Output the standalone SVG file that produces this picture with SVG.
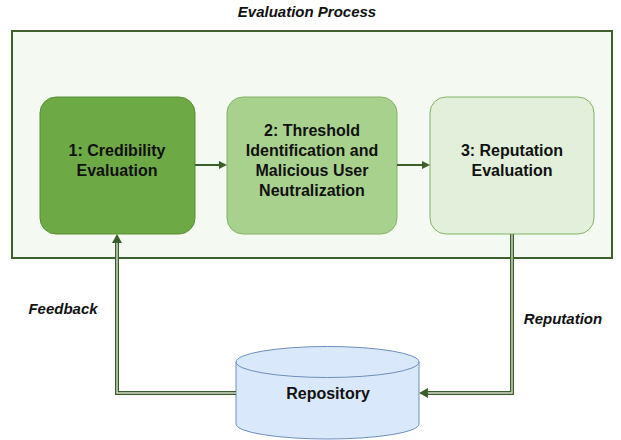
<svg xmlns="http://www.w3.org/2000/svg" width="621" height="440" viewBox="0 0 621 440">
<style>
.lbl{font-family:"Liberation Sans",Arial,sans-serif;font-weight:bold;font-size:16px;fill:#111;text-anchor:middle}
.it{font-family:"Liberation Sans",Arial,sans-serif;font-weight:bold;font-style:italic;font-size:15px;fill:#111;text-anchor:middle}
.conn{fill:none;stroke:#3b5e2b;stroke-width:2}
.dbl{fill:none;stroke:#3b5e2b;stroke-width:4}
.dblin{fill:none;stroke:#d4dccd;stroke-width:1.4}
.head{fill:#3b5e2b}
</style>
<rect width="621" height="440" fill="#ffffff"/>
<g id="evaluation-process">
<rect x="12" y="31" width="600" height="227" fill="#f4f9f1" stroke="#3f6130" stroke-width="2"/>
<text class="it" x="307" y="17">Evaluation Process</text>
</g>
<g id="node1">
<rect x="40" y="97" width="155" height="137" rx="16" fill="#6da945" stroke="#5a8f36" stroke-width="1"/>
<text class="lbl" x="117" y="156">1: Credibility</text>
<text class="lbl" x="117" y="176">Evaluation</text>
</g>
<g id="node2">
<rect x="227" y="97" width="170" height="137" rx="16" fill="#a9d18e" stroke="#82b366" stroke-width="1"/>
<text class="lbl" x="312" y="136">2: Threshold</text>
<text class="lbl" x="312" y="156">Identification and</text>
<text class="lbl" x="312" y="176">Malicious User</text>
<text class="lbl" x="312" y="196">Neutralization</text>
</g>
<g id="node3">
<rect x="430" y="97" width="164" height="137" rx="16" fill="#e2efda" stroke="#82b366" stroke-width="1"/>
<text class="lbl" x="512" y="156">3: Reputation</text>
<text class="lbl" x="512" y="176">Evaluation</text>
</g>
<g id="repository">
<path d="M236,362 L236,424 A91.5,15 0 0 0 419,424 L419,362 A91.5,15.5 0 0 0 236,362 Z" fill="#dae8fc" stroke="#6c8ebf" stroke-width="1"/>
<path d="M236,362 A91.5,15.5 0 0 0 419,362" fill="none" stroke="#6c8ebf" stroke-width="1"/>
<text class="lbl" x="328" y="399">Repository</text>
</g>
<g id="connectors">
<line class="conn" x1="195" y1="165" x2="220" y2="165"/>
<path class="head" d="M227,165 L219,161 L219,169 Z"/>
<line class="conn" x1="397" y1="165" x2="423" y2="165"/>
<path class="head" d="M430,165 L422,161 L422,169 Z"/>
<path class="dbl" d="M236,393 L117,393 L117,242"/>
<path class="dblin" d="M236,393 L117,393 L117,242"/>
<path class="head" d="M117,234 L112,243 L122,243 Z"/>
<path class="dbl" d="M512,234 L512,393 L428,393"/>
<path class="dblin" d="M512,234 L512,393 L428,393"/>
<path class="head" d="M419,393 L428,388 L428,398 Z"/>
<text class="it" x="63" y="314">Feedback</text>
<text class="it" x="563" y="324">Reputation</text>
</g>
</svg>
